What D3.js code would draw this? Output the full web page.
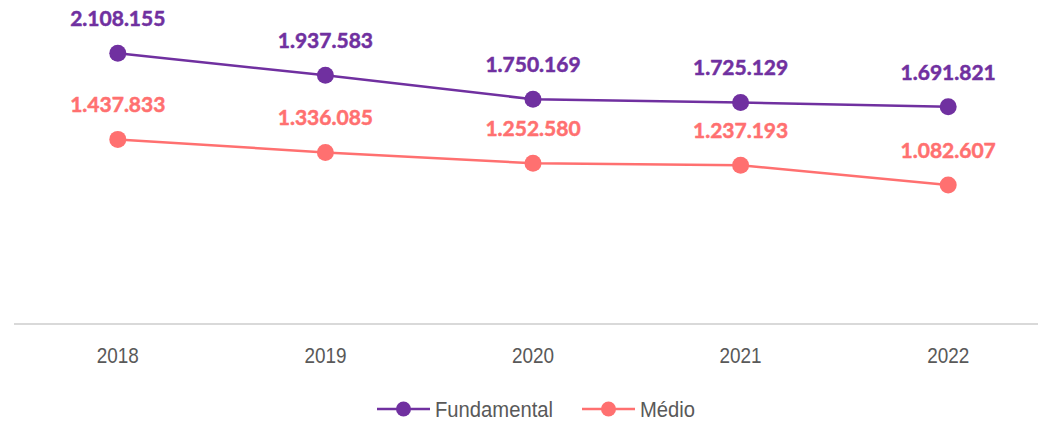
<!DOCTYPE html>
<html>
<head>
  <meta charset="utf-8">
  <title>Matrículas</title>
  <script src="https://d3js.org/d3.v7.min.js"></script>
  <style>
    body { margin: 0; background: #fff; }
    .axis text, .legend text { font-family: "Liberation Sans Narrow", "Arial Narrow", "Liberation Sans", sans-serif; fill: #595959; }
    .lbl { font-family: Lato, "Open Sans", sans-serif; font-weight: bold; }
  </style>
</head>
<body>
<script>
// data
var years = ["2018", "2019", "2020", "2021", "2022"];
var fundamental = [2108155, 1937583, 1750169, 1725129, 1691821];
var medio = [1437833, 1336085, 1252580, 1237193, 1082607];
var seriesNames = ["Fundamental", "Médio"];
var seriesColors = ["#7030a0", "#ff7070"];

var width = 1038, height = 422;
var svg = d3.select("body").append("svg").attr("width", width).attr("height", height);

var x = d3.scaleBand().domain(years).range([14, 1052]);
var y = d3.scaleLinear().domain([0, 2500000]).range([324, 3]);

var fmt = function(v) { return d3.format(",")(v).replace(/,/g, "."); };
var cx = function(d) { return x(d) + x.bandwidth() / 2; };

// x axis (narrow font imitated with a horizontal squeeze)
var gx = svg.append("g").attr("class", "axis").attr("transform", "translate(0,324)");
gx.append("line").attr("x1", 14).attr("x2", 1038).attr("stroke", "#d9d9d9").attr("stroke-width", 2);
gx.selectAll("text").data(years).enter().append("text")
  .attr("transform", function(d) { return "translate(" + cx(d) + ",39) scale(0.86,1)"; })
  .attr("text-anchor", "middle")
  .attr("font-size", "22px")
  .text(function(d) { return d; });

var series = [fundamental, medio];
series.forEach(function(vals, i) {
  var pts = years.map(function(yr, j) { return [yr, vals[j]]; });
  var line = d3.line()
    .x(function(d) { return cx(d[0]); })
    .y(function(d) { return y(d[1]); });
  svg.append("path").datum(pts)
    .attr("fill", "none").attr("stroke", seriesColors[i]).attr("stroke-width", 2.5)
    .attr("d", line);
  svg.selectAll(".pt" + i).data(pts).enter().append("circle")
    .attr("cx", function(d) { return cx(d[0]); })
    .attr("cy", function(d) { return y(d[1]); })
    .attr("r", 8.5).attr("fill", seriesColors[i]);
  svg.selectAll(".lb" + i).data(pts).enter().append("text")
    .attr("class", "lbl")
    .attr("x", function(d) { return cx(d[0]); })
    .attr("y", function(d) { return y(d[1]) - 27; })
    .attr("text-anchor", "middle")
    .attr("font-size", "21px")
    .attr("fill", seriesColors[i])
    .attr("stroke", seriesColors[i]).attr("stroke-width", 0.5)
    .text(function(d) { return fmt(d[1]); });
});

// legend
var legendX = [377, 582];
var lg = svg.append("g").attr("class", "legend");
seriesNames.forEach(function(name, i) {
  var g = lg.append("g").attr("transform", "translate(" + legendX[i] + ",409)");
  g.append("line").attr("x1", 0).attr("x2", 53).attr("stroke", seriesColors[i]).attr("stroke-width", 2.5);
  g.append("circle").attr("cx", 26.5).attr("r", 7.5).attr("fill", seriesColors[i]);
  g.append("text").attr("transform", "translate(58,8) scale(0.92,1)").attr("font-size", "22px").text(name);
});
</script>
</body>
</html>
